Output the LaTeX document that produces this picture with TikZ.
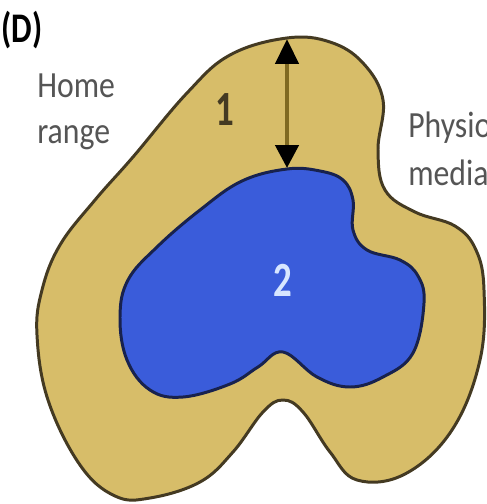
\documentclass[tikz,border=0pt]{standalone}
\usepackage{fontspec}
\setmainfont{Carlito}
\usetikzlibrary{arrows.meta}

\definecolor{rangefill}{RGB}{215,189,105}
\definecolor{rangeline}{RGB}{68,58,34}
\definecolor{corefill}{RGB}{58,92,218}
\definecolor{coreline}{RGB}{24,34,78}
\definecolor{labelgray}{RGB}{85,85,85}
\definecolor{shaftcol}{RGB}{128,106,34}
\definecolor{corenum}{RGB}{215,230,255}

\begin{document}
\begin{tikzpicture}[x=0.02cm, y=-0.02cm,
    zone/.style={line width=1.7pt, line join=round},
    lbl/.style={font=\fontsize{21}{25}\selectfont, text=labelgray, anchor=base west, inner sep=0pt, xscale=0.86, transform shape},
    num/.style={font=\fontsize{28}{30}\selectfont\bfseries, inner sep=0pt, xscale=0.75, transform shape},
    gap/.style={line width=2.6pt, draw=shaftcol, {Triangle[width=0.46cm, length=0.5cm, color=black]}-{Triangle[width=0.46cm, length=0.46cm, color=black]}},
]
% Frame
\fill[white] (0,0) rectangle (487,504);
\useasboundingbox (0,0) rectangle (487,504);

% Home range (outer)
\draw[zone, fill=rangefill, draw=rangeline] plot[smooth cycle, tension=0.65] coordinates {
    (287,38) (330,42) (363,63) (383,100) (378,150) (385,190) (415,212) (455,226)
    (476,250) (484,290) (480,360) (452,430) (405,474) (357,480) (330,452) (303,412)
    (283,400) (263,412) (233,452) (200,482) (150,498) (115,496) (80,465) (48,400)
    (37,335) (42,290) (60,245) (95,200) (133,157) (187,93) (230,55)};

% Physiological median (inner)
\draw[zone, fill=corefill, draw=coreline] plot[smooth cycle, tension=0.65] coordinates {
    (287,169) (320,171) (343,180) (353,200) (353,230) (367,250) (400,260) (418,276)
    (424,303) (413,353) (383,377) (350,387) (317,377) (283,352) (258,367) (230,384)
    (183,397) (150,390) (127,360) (120,317) (128,280) (157,247) (200,210) (242,181)};

% Gap arrow
\coordinate (rangetop) at (287,39);
\coordinate (coretop) at (287,168);
\draw[gap] (rangetop) -- (coretop);

% Labels
\node[lbl, font=\fontsize{24}{26}\selectfont\bfseries, text=black, xscale=0.9] (panel) at (1,42) {(D)};
\node[lbl] (home) at (37,97) {Home};
\node[lbl] (range) at (37,143) {range};
\node[lbl] (physio) at (408,137) {Physiological};
\node[lbl] (median) at (408,185) {median};
\node[num, text=rangeline] (one) at (225,110) {1};
\node[num, text=corenum] (two) at (283,280) {2};
\end{tikzpicture}
\end{document}
